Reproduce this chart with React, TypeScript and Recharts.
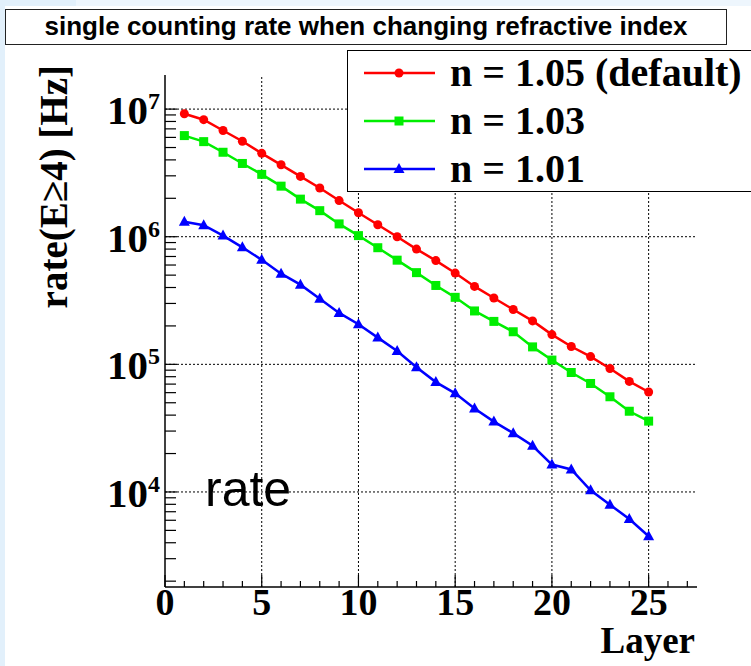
import React from "react";
import { LineChart, Line, XAxis, YAxis, ReferenceLine, Legend, Label } from "recharts";

const layers = [1, 2, 3, 4, 5, 6, 7, 8, 9, 10, 11, 12, 13, 14, 15, 16, 17, 18, 19, 20, 21, 22, 23, 24, 25];
const rate105 = [9.2e6, 8.26e6, 6.8e6, 5.6e6, 4.5e6, 3.66e6, 2.97e6, 2.41e6, 1.92e6, 1.54e6, 1.24e6, 1.0e6, 8.0e5, 6.5e5, 5.19e5, 4.08e5, 3.31e5, 2.69e5, 2.19e5, 1.71e5, 1.38e5, 1.15e5, 9.27e4, 7.35e4, 6.07e4];
const rate103 = [6.2e6, 5.56e6, 4.59e6, 3.75e6, 3.08e6, 2.49e6, 1.97e6, 1.6e6, 1.26e6, 1.02e6, 8.2e5, 6.55e5, 5.23e5, 4.15e5, 3.35e5, 2.62e5, 2.17e5, 1.8e5, 1.37e5, 1.08e5, 8.63e4, 7.08e4, 5.57e4, 4.29e4, 3.59e4];
const rate101 = [1.31e6, 1.23e6, 1.02e6, 8.26e5, 6.59e5, 5.13e5, 4.21e5, 3.27e5, 2.53e5, 2.06e5, 1.62e5, 1.27e5, 9.5e4, 7.26e4, 5.93e4, 4.5e4, 3.56e4, 2.89e4, 2.3e4, 1.64e4, 1.5e4, 1.03e4, 7.94e3, 6.14e3, 4.5e3];

const xTicks = [0, 1, 2, 3, 4, 5, 6, 7, 8, 9, 10, 11, 12, 13, 14, 15, 16, 17, 18, 19, 20, 21, 22, 23, 24, 25, 26, 27];
const xMajor = [5, 10, 15, 20, 25];
const yMajor = [1e4, 1e5, 1e6, 1e7];
const yTicks = [
  2e3, 3e3, 4e3, 5e3, 6e3, 7e3, 8e3, 9e3,
  1e4, 2e4, 3e4, 4e4, 5e4, 6e4, 7e4, 8e4, 9e4,
  1e5, 2e5, 3e5, 4e5, 5e5, 6e5, 7e5, 8e5, 9e5,
  1e6, 2e6, 3e6, 4e6, 5e6, 6e6, 7e6, 8e6, 9e6,
  1e7,
];

const data = layers.map((l, i) => ({ layer: l, n105: rate105[i], n103: rate103[i], n101: rate101[i] }));

const SERIF = "'Liberation Serif', 'Times New Roman', serif";
const SANS = "'Liberation Sans', Arial, sans-serif";
const X_DOMAIN = [0, 27.5];
const Y_DOMAIN = [1800, 1.85e7];

const series = [
  { key: "n105", name: "n = 1.05 (default)", color: "#ff0000", shape: "circle" },
  { key: "n103", name: "n = 1.03", color: "#00ee00", shape: "square" },
  { key: "n101", name: "n = 1.01", color: "#0000ff", shape: "triangle" },
];

function marker(shape: string, color: string, cx: number, cy: number, key?: any) {
  if (shape === "circle") return <circle key={key} cx={cx} cy={cy} r={4.5} fill={color} />;
  if (shape === "square") return <rect key={key} x={cx - 4.5} y={cy - 4.5} width={9} height={9} fill={color} />;
  return <path key={key} d={`M${cx},${cy - 6} L${cx + 5.5},${cy + 4} L${cx - 5.5},${cy + 4} Z`} fill={color} />;
}

function XTick(props: any) {
  const { x, y, payload } = props;
  const v = payload.value;
  const major = v % 5 === 0;
  return (
    <g>
      <line x1={x} x2={x} y1={y} y2={y - (major ? 12 : 6)} stroke="#000" strokeWidth={1.2} />
      {major && (
        <text x={x} y={y + 28} textAnchor="middle" fontFamily={SERIF} fontWeight="bold" fontSize={38} fill="#000">
          {v}
        </text>
      )}
    </g>
  );
}

function YTick(props: any) {
  const { x, y, payload } = props;
  const v = payload.value;
  const exp = Math.round(Math.log10(v));
  const major = Math.abs(v - Math.pow(10, exp)) < v * 1e-6;
  return (
    <g>
      <line x1={x} x2={x + (major ? 12 : 11)} y1={y} y2={y} stroke="#000" strokeWidth={1.2} />
      {major && (
        <g>
          <text x={148} y={y + 15} textAnchor="end" fontFamily={SERIF} fontWeight="bold" fontSize={41} fill="#000">
            10
          </text>
          <text x={148} y={y} textAnchor="start" fontFamily={SERIF} fontWeight="bold" fontSize={24} fill="#000">
            {exp}
          </text>
        </g>
      )}
    </g>
  );
}

function LegendBox(props: any) {
  const payload = props.payload || [];
  const ordered = series.filter((s) => payload.some((p: any) => p.dataKey === s.key));
  const rows = ordered.length ? ordered : series;
  return (
    <div style={{ width: 420, height: 142, border: "1px solid #000", background: "#fff", boxSizing: "border-box" }}>
      <svg width={420} height={142}>
        {rows.map((s, i) => {
          const ly = 22 + i * 48;
          return (
            <g key={s.key}>
              <line x1={16} x2={87} y1={ly} y2={ly} stroke={s.color} strokeWidth={2.5} />
              {marker(s.shape, s.color, 51, ly)}
              <text x={102} y={ly + 13} fontFamily={SERIF} fontWeight="bold" fontSize={40} fill="#000">
                {s.name}
              </text>
            </g>
          );
        })}
      </svg>
    </div>
  );
}

export default function App() {
  return (
    <div style={{ position: "absolute", left: 0, top: 0, width: 751, height: 666, overflow: "hidden", background: "#fff" }}>
      <div style={{ position: "absolute", left: 0, top: 0, width: 751, height: 6, background: "#eef6fd" }} />
      <div style={{ position: "absolute", left: 0, top: 0, width: 76, height: 6, background: "#e2f0fb" }} />
      <div style={{ position: "absolute", left: 0, top: 0, width: 5, height: 666, background: "#e2f0fb" }} />

      <div
        style={{
          position: "absolute",
          left: 5,
          top: 9,
          width: 722,
          height: 36,
          border: "1.5px solid #222",
          boxSizing: "border-box",
          background: "#fff",
          fontFamily: SANS,
          fontWeight: "bold",
          fontSize: 26,
          lineHeight: "33px",
          textAlign: "center",
          color: "#000",
          whiteSpace: "nowrap",
        }}
      >
        single counting rate when changing refractive index
      </div>

      <div style={{ position: "absolute", left: 0, top: 0 }}>
        <LineChart width={751} height={666} data={data} margin={{ top: 75, right: 54, bottom: 0, left: 0 }}>
          <XAxis
            dataKey="layer"
            type="number"
            domain={X_DOMAIN}
            ticks={xTicks}
            interval={0}
            height={79}
            tickSize={0}
            tickMargin={0}
            tickLine={false}
            axisLine={{ stroke: "#000", strokeWidth: 1.5 }}
            tick={<XTick />}
            allowDataOverflow
          >
            <Label
              content={(p: any) => {
                const vb = p.viewBox || {};
                return (
                  <text x={vb.x + vb.width - 2} y={vb.y + 66} textAnchor="end" fontFamily={SERIF} fontWeight="bold" fontSize={37} fill="#000">
                    Layer
                  </text>
                );
              }}
            />
          </XAxis>
          <XAxis xAxisId="top" orientation="top" type="number" domain={X_DOMAIN} height={0} tick={false} tickLine={false} axisLine={{ stroke: "#000", strokeWidth: 1.5 }} />
          <YAxis
            type="number"
            scale="log"
            domain={Y_DOMAIN}
            allowDataOverflow
            ticks={yTicks}
            interval={0}
            width={165}
            tickSize={0}
            tickMargin={0}
            tickLine={false}
            axisLine={{ stroke: "#000", strokeWidth: 1.5 }}
            tick={<YTick />}
          >
            <Label
              content={() => (
                <text transform="translate(67,65) rotate(-90)" textAnchor="end" fontFamily={SERIF} fontWeight="bold" fontSize={39} fill="#000">
                  rate(E≥4) [Hz]
                </text>
              )}
            />
          </YAxis>
          <YAxis yAxisId="right" orientation="right" type="number" scale="log" domain={Y_DOMAIN} allowDataOverflow width={0} tick={false} tickLine={false} axisLine={{ stroke: "#000", strokeWidth: 1.5 }} />

          {yMajor.map((v) => (
            <ReferenceLine key={"h" + v} y={v} stroke="#000" strokeWidth={1} strokeDasharray="2 2" />
          ))}
          {xMajor.map((v) => (
            <ReferenceLine key={"v" + v} x={v} stroke="#000" strokeWidth={1} strokeDasharray="2 2" />
          ))}

          {series.map((s) => (
            <Line
              key={s.key}
              dataKey={s.key}
              name={s.name}
              stroke={s.color}
              strokeWidth={2.5}
              isAnimationActive={false}
              dot={(p: any) => marker(s.shape, s.color, p.cx, p.cy, p.index)}
              activeDot={false}
            />
          ))}

          <Legend
            layout="vertical"
            align="center"
            verticalAlign="middle"
            content={<LegendBox />}
            wrapperStyle={{ position: "absolute", left: 347, top: 50, width: 420, height: 142 }}
          />
        </LineChart>
      </div>

      <div
        style={{
          position: "absolute",
          left: 205,
          top: 464,
          fontFamily: SANS,
          fontSize: 50,
          lineHeight: "50px",
          color: "#000",
        }}
      >
        rate
      </div>
    </div>
  );
}
